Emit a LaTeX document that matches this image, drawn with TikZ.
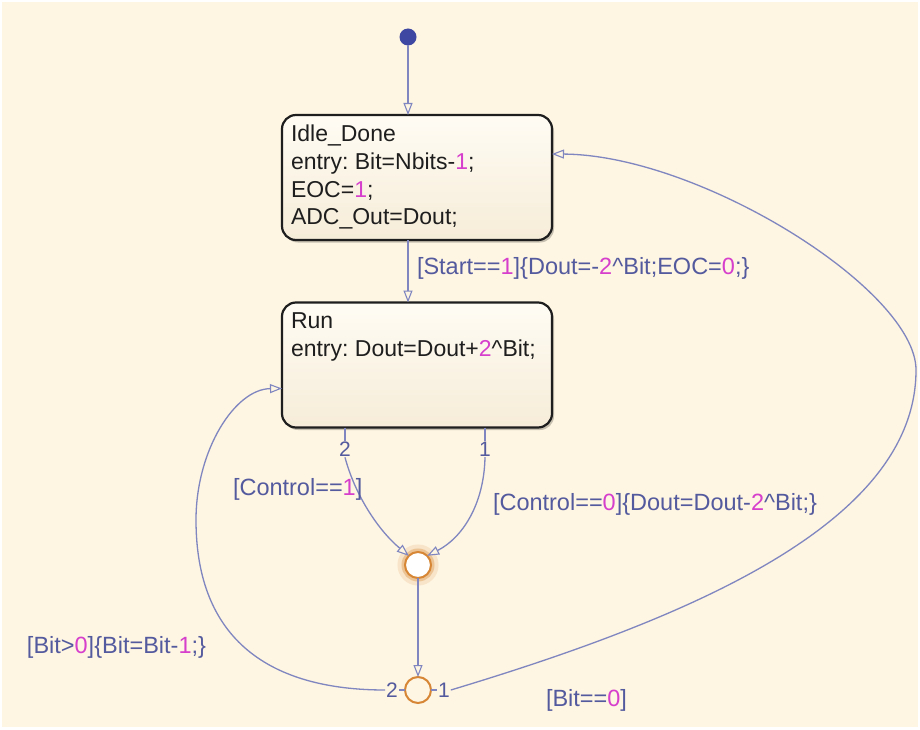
\documentclass[tikz,border=0pt]{standalone}
\usepackage{fontspec}
\setmainfont{Liberation Sans}
\usetikzlibrary{arrows.meta,shadows}
\definecolor{bg}{RGB}{254,245,226}
\definecolor{ln}{RGB}{128,134,192}
\definecolor{lt}{RGB}{84,90,158}
\definecolor{mg}{RGB}{214,62,204}
\definecolor{st}{RGB}{30,30,30}
\definecolor{jo}{RGB}{214,134,52}
\definecolor{btop}{RGB}{255,252,244}
\definecolor{bbot}{RGB}{246,236,216}
\definecolor{initc}{RGB}{62,72,162}
\newcommand{\nm}[1]{\textcolor{mg}{#1}}
\frenchspacing
\begin{document}
\begin{tikzpicture}[x=1pt,y=-1pt,
  every node/.style={inner sep=0pt, outer sep=0pt},
  statebox/.style={draw=st, line width=2.2pt, rounded corners=14pt, top color=btop, bottom color=bbot,
    minimum width=270pt, minimum height=125pt,
    drop shadow={shadow xshift=2pt, shadow yshift=-2.5pt, opacity=0.22, fill=black}},
  stxt/.style={anchor=base west, text=st, font=\fontsize{23}{27.8}\selectfont},
  ltxt/.style={anchor=base west, text=lt, font=\fontsize{23.5}{27.8}\selectfont},
  numlbl/.style={text=lt, fill=bg, inner sep=1pt, font=\fontsize{21}{24}\selectfont},
  trline/.style={draw=ln, line width=1.3pt},
  trarrow/.style={-{Triangle[length=12pt,width=9pt,fill=bg,line width=1.1pt]}},
  junc/.style={circle, draw=jo, line width=2pt, minimum size=26pt},
]
\fill[white] (0,0) rectangle (920,730);
\fill[bg] (2,2) rectangle (918,727);
\useasboundingbox (0,0) rectangle (920,730);

% states
\node[circle, fill=initc, minimum size=17pt] (init) at (408,37) {};
\node[statebox] (idle) at (417,177.5) {};
\node[statebox] (run) at (417,365) {};
\node[stxt] (idle1) at (291,141.5) {Idle\_Done};
\node[stxt] (idle2) at (291,169.3) {entry: Bit=Nbits-\nm{1};};
\node[stxt] (idle3) at (291,197.1) {EOC=\nm{1};};
\node[stxt] (idle4) at (291,224.9) {ADC\_Out=Dout;};
\node[stxt] (run1) at (291,328) {Run};
\node[stxt] (run2) at (291,356) {entry: Dout=Dout+\nm{2}\textasciicircum Bit;};

% junctions
\node[circle, draw=jo, opacity=0.15, line width=10pt, minimum size=31pt] (j1glow) at (418,565) {};
\node[circle, draw=jo, opacity=0.35, line width=5pt, minimum size=28pt] (j1glow2) at (418,565) {};
\node[junc, fill=white] (j1) at (418,565) {};
\node[junc, fill=bg] (j2) at (418,690) {};

% transitions
\draw[trline,trarrow] (init) -- (init |- idle.north);
\draw[trline,trarrow] (init |- idle.south) -- (init |- run.north);
\node[ltxt] (lstart) at (417,274) {[Start==\nm{1}]\{Dout=-\nm{2}\textasciicircum Bit;EOC=\nm{0};\}};

\node[numlbl] (e2) at (345,449) {2};
\draw[trline] (e2 |- run.south) -- (e2.north);
\draw[trline,trarrow] (e2.south) .. controls (355,495) and (378,530) .. (j1.135);
\node[numlbl] (e1) at (485,449) {1};
\draw[trline] (e1 |- run.south) -- (e1.north);
\draw[trline,trarrow] (e1.south) .. controls (484,505) and (462,538) .. (j1.45);

\node[ltxt] (lc1) at (233,495) {[Control==\nm{1}]};
\node[ltxt] (lc0) at (493,510) {[Control==\nm{0}]\{Dout=Dout-\nm{2}\textasciicircum Bit;\}};

\draw[trline,trarrow] (j1) -- (j2);

\node[numlbl] (k2) at (392,690) {2};
\node[numlbl] (k1) at (444,690) {1};
\draw[trline] (j2.west) -- (k2.east);
\draw[trline,trarrow] (k2.west) .. controls (270,690) and (196,640) .. (196,520)
  .. controls (196,450) and (235,389) .. ([yshift=-23.5pt]run.west);
\draw[trline] (j2.east) -- (k1.west);
\draw[trline,trarrow] (k1.east) .. controls (700,615) and (916,520) .. (916,370)
  .. controls (916,290) and (700,155) .. ([yshift=23.5pt]idle.east);

\node[ltxt] (lb0) at (27,653) {[Bit>\nm{0}]\{Bit=Bit-\nm{1};\}};
\node[ltxt] (lbe) at (546,706) {[Bit==\nm{0}]};
\end{tikzpicture}
\end{document}
